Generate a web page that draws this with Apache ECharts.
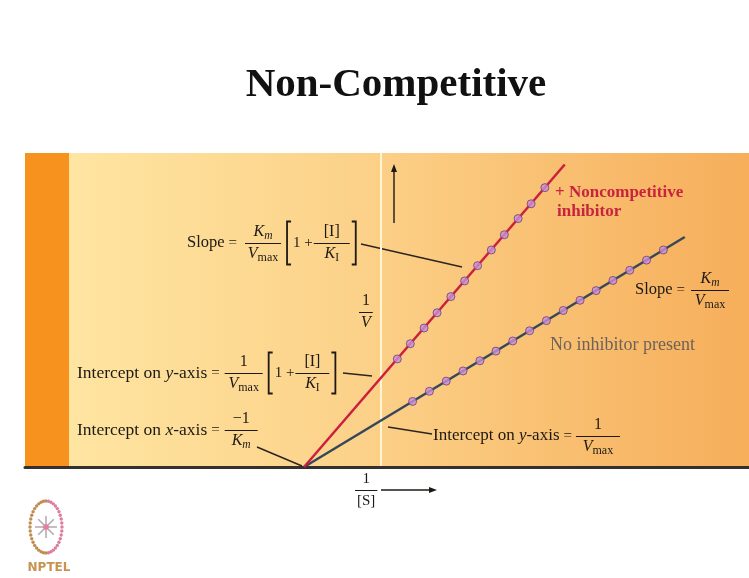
<!DOCTYPE html>
<html>
<head>
<meta charset="utf-8">
<script src="https://cdn.jsdelivr.net/npm/echarts@6/dist/echarts.min.js"></script>
<style>
  html, body { margin: 0; padding: 0; background: #ffffff; }
  #chart { width: 749px; height: 578px; }
</style>
</head>
<body>
<div id="chart"></div>
<script>
// Lineweaver–Burk plot: 1/V against 1/[S], with and without a noncompetitive inhibitor.
// Units: 1/[S] in multiples of 1/Km, 1/V in multiples of 1/Vmax.

// Fitted straight lines (both cross the x-axis at -1/Km)
const noInhibitorLine = [[-1, 0], [3.98, 4.98]];
const inhibitorLine = [[-1, 0], [2.41, 6.55]];

// Measured points on the inhibited line
const inhibitorX = [0.22, 0.39, 0.57, 0.74, 0.92, 1.10, 1.27, 1.45, 1.62, 1.80, 1.97, 2.15];
const inhibitorY = [2.34, 2.67, 3.01, 3.34, 3.69, 4.03, 4.36, 4.70, 5.03, 5.38, 5.70, 6.05];

// Measured points with no inhibitor
const noInhibitorX = [0.42, 0.64, 0.86, 1.08, 1.30, 1.51, 1.73, 1.95, 2.17, 2.39, 2.61, 2.82, 3.04, 3.26, 3.48, 3.70];
const noInhibitorY = [1.42, 1.64, 1.86, 2.08, 2.30, 2.51, 2.73, 2.95, 3.17, 3.39, 3.61, 3.82, 4.04, 4.26, 4.48, 4.70];

// Axis extents
const xRange = [-4.65, 4.82];
const yRange = [0, 6.8];

const zip = (xs, ys) => xs.map((x, i) => [x, ys[i]]);

const SERIF = '"Liberation Serif", "Times New Roman", serif';
const INK = '#1d1915';
function font(size, it, b) {
  return (it ? 'italic ' : '') + (b ? 'bold ' : '') + size + 'px ' + SERIF;
}
function textW(str, f) {
  return new echarts.graphic.Text({ style: { text: str, font: f } }).getBoundingRect().width;
}
function mkText(str, x, y, f, color, align) {
  return { type: 'text', x: x, y: y, silent: true,
    style: { text: str, font: f, fill: color, align: align || 'left', verticalAlign: 'middle' } };
}
function pf(p) { return font(p.size, p.it, p.b); }
function runW(parts) { return parts.reduce((w, p) => w + textW(p.t, pf(p)), 0); }
function layRun(parts, x, yc, color, out) {
  let cx = x;
  parts.forEach(p => {
    const f = pf(p);
    out.push(mkText(p.t, cx, yc + (p.dy || 0), f, color));
    cx += textW(p.t, f);
  });
  return cx - x;
}
// Lays out text runs, stacked fractions and square brackets from left to right
function expr(items, x, yc, color) {
  color = color || INK;
  const out = [];
  let cx = x;
  items.forEach(it => {
    if (it.gap) cx += it.gap;
    else if (it.run) cx += layRun(it.run, cx, yc, color, out);
    else if (it.frac) {
      const num = it.frac[0], den = it.frac[1];
      const nw = runW(num), dw = runW(den), w = Math.max(nw + 4, dw + 4, it.w || 0);
      layRun(num, cx + (w - nw) / 2, yc - 11, color, out);
      layRun(den, cx + (w - dw) / 2, yc + 11, color, out);
      out.push({ type: 'line', silent: true, shape: { x1: cx, y1: yc + 0.5, x2: cx + w, y2: yc + 0.5 },
        style: { stroke: color, lineWidth: 1 } });
      cx += w;
    } else if (it.br) {
      const t = yc - it.h / 2, b = yc + it.h / 2;
      const open = it.br === '[';
      const bx = open ? cx + 1 : cx + 5;
      const d = open ? 4 : -4;
      out.push({ type: 'polyline', silent: true,
        shape: { points: [[bx + d, t], [bx, t], [bx, b], [bx + d, b]] },
        style: { stroke: color, lineWidth: 1.8, fill: null } });
      cx += 7;
    }
  });
  return out;
}
function leader(x1, y1, x2, y2) {
  return { type: 'line', silent: true, shape: { x1: x1, y1: y1, x2: x2, y2: y2 },
    style: { stroke: '#2a2420', lineWidth: 1.4 } };
}
function arrow(x1, y1, x2, y2) {
  const a = Math.atan2(y2 - y1, x2 - x1), L = 8, W = 3;
  const bx = x2 - L * Math.cos(a), by = y2 - L * Math.sin(a);
  return [
    { type: 'line', silent: true, shape: { x1: x1, y1: y1, x2: bx, y2: by },
      style: { stroke: '#1d1915', lineWidth: 1.4 } },
    { type: 'polygon', silent: true,
      shape: { points: [[x2, y2], [bx - W * Math.sin(a), by + W * Math.cos(a)], [bx + W * Math.sin(a), by - W * Math.cos(a)]] },
      style: { fill: '#1d1915' } }
  ];
}

// Reusable symbols
const Km = [{ t: 'K', size: 16, it: true }, { t: 'm', size: 11.5, it: true, dy: 4 }];
const Vmax = [{ t: 'V', size: 16, it: true }, { t: 'max', size: 12, dy: 4 }];
const KI = [{ t: 'K', size: 16, it: true }, { t: 'I', size: 11.5, dy: 4 }];
const Ibr = [{ t: '[I]', size: 16 }];
const One = [{ t: '1', size: 16 }];
const eq = { run: [{ t: '=', size: 15 }] };
const onePlus = { run: [{ t: '1 +', size: 15 }] };
const interceptOn = (axis, size) => ({ run: [
  { t: 'Intercept on ', size: size }, { t: axis, size: size, it: true }, { t: '-axis', size: size }] });

let annotations = [];
// Slope of the inhibited line
annotations = annotations.concat(expr([
  { run: [{ t: 'Slope', size: 16.5 }] }, { gap: 4 }, eq, { gap: 8 },
  { frac: [Km, Vmax], w: 36 }, { gap: 5 }, { br: '[', h: 43 }, onePlus, { gap: 1 },
  { frac: [Ibr, KI], w: 36 }, { gap: 1 }, { br: ']', h: 43 }
], 187, 243));
annotations.push(leader(361, 244, 462, 267));

// y-intercept of the inhibited line
annotations = annotations.concat(expr([
  interceptOn('y', 17.5), { gap: 4 }, eq, { gap: 5 },
  { frac: [One, Vmax], w: 38 }, { gap: 5 }, { br: '[', h: 41 }, onePlus, { gap: 1 },
  { frac: [Ibr, KI], w: 34 }, { gap: 1 }, { br: ']', h: 41 }
], 77, 373));
annotations.push(leader(343, 373, 372, 376));

// x-intercept
annotations = annotations.concat(expr([
  interceptOn('x', 17.5), { gap: 4 }, eq, { gap: 5 },
  { frac: [[{ t: '\u22121', size: 16 }], Km], w: 33 }
], 77, 430));
annotations.push(leader(257, 447, 302, 466));

// Axis titles
annotations = annotations.concat(expr([{ frac: [[{ t: '1', size: 16 }], [{ t: 'V', size: 16, it: true }]] }], 359, 312));
annotations = annotations.concat(expr([{ frac: [[{ t: '1', size: 15 }], [{ t: '[S]', size: 15 }]], w: 20 }], 355, 490));
annotations = annotations.concat(arrow(381, 490, 437, 490));
annotations = annotations.concat(arrow(394, 223, 394, 164));

// Uninhibited line labels
annotations = annotations.concat(expr([
  { run: [{ t: 'Slope', size: 16.5 }] }, { gap: 4 }, eq, { gap: 6 }, { frac: [Km, Vmax], w: 38 }
], 635, 290));
annotations.push(mkText('No inhibitor present', 550, 345, font(18), '#6d6259'));
annotations = annotations.concat(expr([
  interceptOn('y', 17), { gap: 4 }, eq, { gap: 4 },
  { frac: [One, Vmax], w: 44 }
], 433, 436));
annotations.push(leader(388, 427, 432, 434));

// Inhibited line label
annotations.push(mkText('+ Noncompetitive', 555, 193, font(17, false, true), '#c8233f'));
annotations.push(mkText('inhibitor', 557, 212, font(17, false, true), '#c8233f'));

// Title
annotations.push(mkText('Non-Competitive', 396, 85, font(41, false, true), '#111111', 'center'));

// NPTEL emblem
const logo = [];
(function () {
  const cx = 46, cy = 527, rx = 16, ry = 26;
  for (let i = 0; i < 40; i++) {
    const a = i / 40 * Math.PI * 2;
    logo.push({ type: 'circle', silent: true,
      shape: { cx: cx + rx * Math.cos(a), cy: cy + ry * Math.sin(a), r: 1.7 },
      style: { fill: Math.cos(a) < 0.15 ? '#bf8d4f' : '#de7c9d' } });
  }
  for (let k = 0; k < 8; k++) {
    const a = k / 8 * Math.PI * 2;
    logo.push({ type: 'line', silent: true,
      shape: { x1: cx + 3 * Math.cos(a), y1: cy + 3 * Math.sin(a), x2: cx + 11 * Math.cos(a), y2: cy + 11 * Math.sin(a) },
      style: { stroke: '#b7adb3', lineWidth: 1.6 } });
  }
  logo.push({ type: 'circle', silent: true, shape: { cx: cx, cy: cy, r: 3 }, style: { fill: '#e27f9c' } });
  logo.push(mkText('NPTEL', 49, 568, 'bold 12px "DejaVu Sans", sans-serif', '#c8924f', 'center'));
})();

const chart = echarts.init(document.getElementById('chart'), null, { renderer: 'canvas' });
chart.setOption({
  animation: false,
  backgroundColor: '#ffffff',
  grid: {
    left: 25, right: 0, top: 153, bottom: 111,
    show: true, borderWidth: 0,
    backgroundColor: new echarts.graphic.LinearGradient(0, 0, 1, 0, [
      { offset: 0, color: '#f7921f' },
      { offset: 0.0607, color: '#f7921f' },
      { offset: 0.0608, color: '#fee5a1' },
      { offset: 0.45, color: '#fcd28a' },
      { offset: 1, color: '#f6ae5a' }
    ])
  },
  xAxis: {
    type: 'value', min: xRange[0], max: xRange[1],
    axisLine: { show: true, lineStyle: { color: '#35302c', width: 3 } },
    axisTick: { show: false }, axisLabel: { show: false }, splitLine: { show: false }
  },
  yAxis: {
    type: 'value', min: yRange[0], max: yRange[1],
    axisLine: { show: true, onZero: true, lineStyle: { color: '#fff4d4', width: 2 } },
    axisTick: { show: false }, axisLabel: { show: false }, splitLine: { show: false }
  },
  series: [
    { type: 'line', data: noInhibitorLine, showSymbol: false, silent: true,
      lineStyle: { color: '#35475a', width: 2.5 }, z: 3 },
    { type: 'line', data: inhibitorLine, showSymbol: false, silent: true,
      lineStyle: { color: '#cc1f40', width: 2.5 }, z: 3 },
    { type: 'scatter', data: zip(noInhibitorX, noInhibitorY), symbolSize: 8, silent: true,
      itemStyle: { color: '#c98fd8', borderColor: '#6c3f78', borderWidth: 1 }, z: 4 },
    { type: 'scatter', data: zip(inhibitorX, inhibitorY), symbolSize: 8, silent: true,
      itemStyle: { color: '#c98fd8', borderColor: '#6c3f78', borderWidth: 1 }, z: 4 }
  ],
  graphic: { elements: annotations.concat(logo) }
});
</script>
</body>
</html>
